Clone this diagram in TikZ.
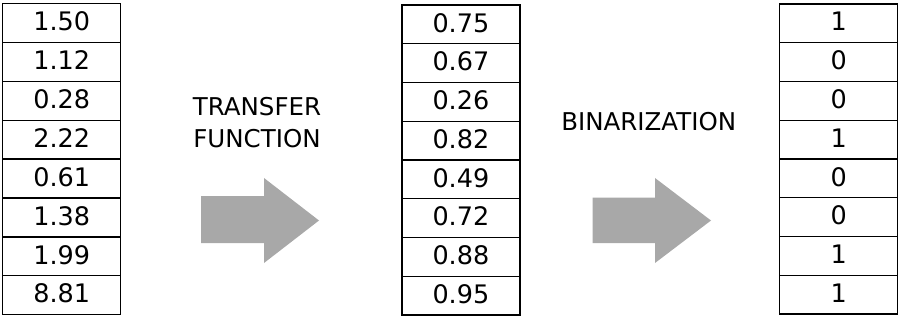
\documentclass[tikz,border=0pt]{standalone}
\usepackage{fontspec}
\setmainfont{DejaVu Sans}
\definecolor{arrowgray}{RGB}{168,168,168}
\tikzset{
  cell/.style={draw,line width=1.3pt,minimum width=118pt,minimum height=38.9pt,inner sep=0pt,outer sep=0pt,text depth=3.5pt,font=\fontsize{25.5}{28}\selectfont},
  caption/.style={align=center,inner sep=0pt,font=\fontsize{24.5}{33}\selectfont}
}

\begin{document}
\begin{tikzpicture}[x=1pt,y=1pt]
\useasboundingbox (0,0) rectangle (902,319);
% input values
\foreach \v [count=\i] in {1.50,1.12,0.28,2.22,0.61,1.38,1.99,8.81}
  \node[cell] (in\i) at (61.7,{315.5-38.9*(\i-0.5)}) {\v};
% transfer function output
\foreach \v [count=\i] in {0.75,0.67,0.26,0.82,0.49,0.72,0.88,0.95}
  \node[cell] (tf\i) at (460.9,{314-38.75*(\i-0.5)}) {\v};
% binary output
\foreach \v [count=\i] in {1,0,0,1,0,0,1,1}
  \node[cell] (bin\i) at (838.8,{315-38.75*(\i-0.5)}) {\v};
\node[caption,anchor=base] (tflabel) at (257,171) {TRANSFER\\FUNCTION};
\node[caption,anchor=base] (binlabel) at (648.7,188.3) {BINARIZATION};
\fill[arrowgray] (201,123)--(264,123)--(264,141)--(319,98.5)--(264,56)--(264,76)--(201,76)--cycle;
\fill[arrowgray] (592.7,121.3)--(655,121.3)--(655,141)--(711,98.5)--(655,56)--(655,76)--(592.7,76)--cycle;
\end{tikzpicture}
\end{document}
